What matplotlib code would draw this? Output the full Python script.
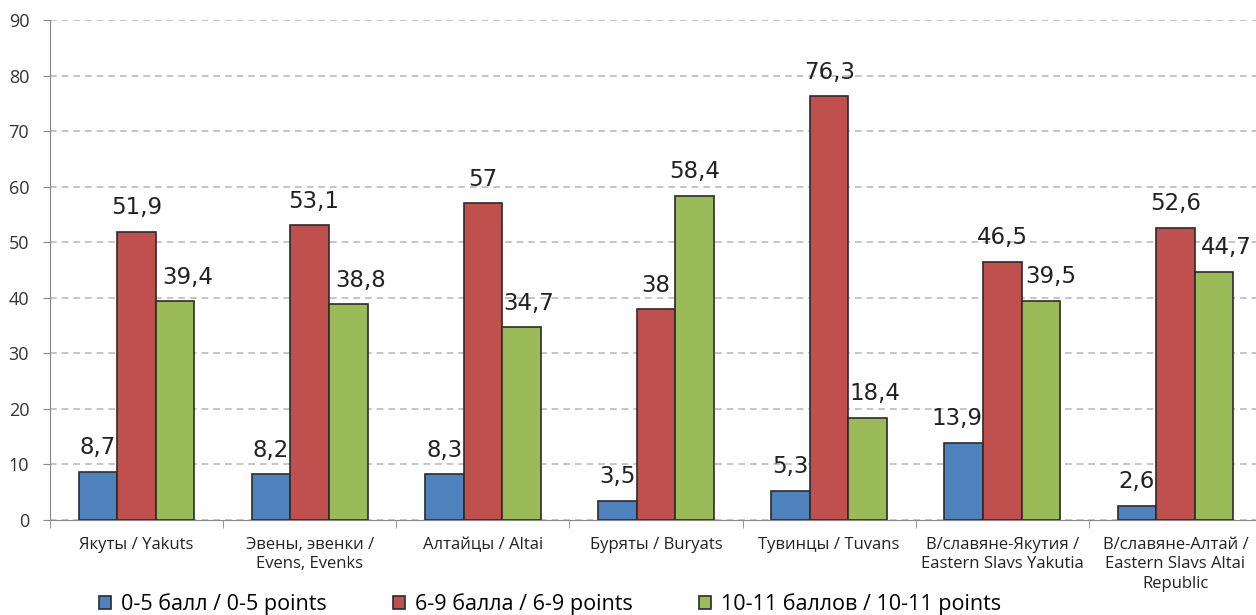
import numpy as np
import matplotlib.pyplot as plt

groups = ['Якуты / Yakuts', 'Эвены, эвенки /\nEvens, Evenks', 'Алтайцы / Altai',
          'Буряты / Buryats', 'Тувинцы / Tuvans',
          'В/славяне-Якутия /\nEastern Slavs Yakutia',
          'В/славяне-Алтай /\nEastern Slavs Altai\nRepublic']
low = [8.7, 8.2, 8.3, 3.5, 5.3, 13.9, 2.6]
mid = [51.9, 53.1, 57, 38, 76.3, 46.5, 52.6]
high = [39.4, 38.8, 34.7, 58.4, 18.4, 39.5, 44.7]
series_names = ['0-5 балл / 0-5 points', '6-9 балла / 6-9 points', '10-11 баллов / 10-11 points']
colors = ['#4f81bd', '#c0504d', '#9bbb59']

# horizontal nudges of the value labels (points), as placed in the original
label_dx = [[0, 0, 0, 0, 0, -5, 0],
            [0, 3, 0, 0, 0, 0, 0],
            [9, 9, 5, 0, 5, 7, 9]]

fig = plt.figure(figsize=(12.56, 6.15), dpi=100)
ax = fig.add_axes([50 / 1256, 95 / 615, 1212 / 1256, 500 / 615])

x = np.arange(len(groups))
w = 0.223
for i, (vals, c, name) in enumerate(zip([low, mid, high], colors, series_names)):
    pos = x + (i - 1) * w
    ax.bar(pos, vals, w, color=c, edgecolor='#2b2b2b', linewidth=1.2, label=name, zorder=3)
    for p, v, dx in zip(pos, vals, label_dx[i]):
        ax.annotate(f'{v:g}'.replace('.', ','), (p, v), xytext=(dx, 12.5), textcoords='offset points',
                    ha='center', va='baseline', fontsize=16.5, color='#222222', zorder=4,
                    annotation_clip=False)

ax.set_xlim(-0.5, len(groups) - 0.5)
ax.set_ylim(0, 90)
ax.set_yticks(range(0, 91, 10))
ax.yaxis.grid(True, linestyle=(0, (4, 3)), color='#bbbbbb', linewidth=1.2, zorder=0)
ax.set_axisbelow(True)

ax.set_xticks(x)
ax.set_xticklabels(groups, fontsize=12, family='Open Sans', color='#222222', linespacing=1.3)
ax.tick_params(axis='x', length=0, pad=12)
ax.set_xticks(np.arange(-0.5, len(groups)), minor=True)
ax.tick_params(axis='x', which='minor', length=6, color='#888888')
ax.tick_params(axis='y', labelsize=13, colors='#333333', length=5, pad=10, color='#888888')
for lbl in ax.get_yticklabels():
    lbl.set_family('Open Sans')

for s in ['top', 'right']:
    ax.spines[s].set_visible(False)
ax.spines['left'].set_color('#888888')
ax.spines['bottom'].set_color('#888888')

fig.legend(loc='lower left', bbox_to_anchor=(80 / 1256, -0.032), ncol=3, frameon=False,
           prop={'family': 'Open Sans', 'size': 15.5}, handlelength=0.55, handleheight=0.55,
           handletextpad=0.45, columnspacing=3.1)

fig.savefig('out.png', dpi=100)
